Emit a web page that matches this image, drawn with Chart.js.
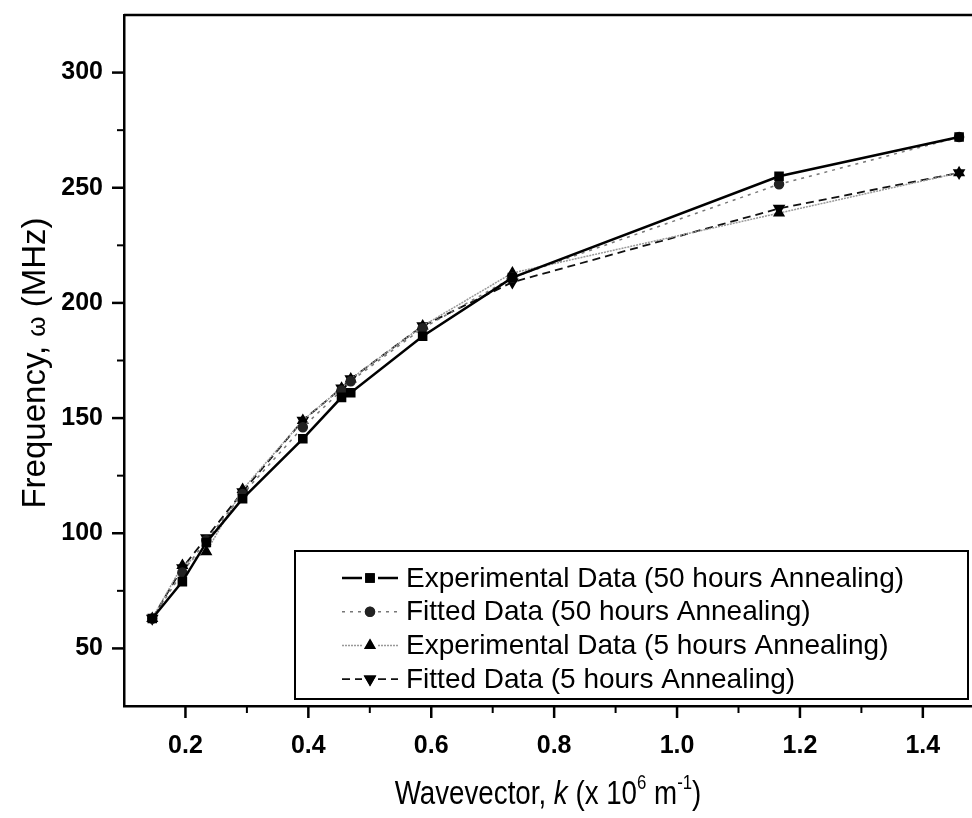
<!DOCTYPE html>
<html>
<head>
<meta charset="utf-8">
<script src="https://cdn.jsdelivr.net/npm/chart.js@4.4.1/dist/chart.umd.min.js"></script>
<style>
  html, body { margin: 0; padding: 0; background: #fff; }
  #wrap { width: 972px; height: 818px; position: relative; }
</style>
</head>
<body>
<div id="wrap"><canvas id="grafico-dispersao"></canvas></div>
<script>
// wavevector k (x 10^6 m^-1)
const wavevector = [0.146, 0.195, 0.234, 0.293, 0.391, 0.454, 0.469, 0.586, 0.732, 1.166, 1.459];
// frequency (MHz)
const exp50 = [63, 79, 96, 115, 141, 159, 161, 185.5, 211, 255, 272];
const fit50 = [63, 83, 97, 117, 146, 162, 166, 189, 211, 251.5, 272];
const exp5  = [63, 86, 92, 119, 149, 163, 167, 190, 213, 239, 256.5];
const fit5  = [63, 85, 98, 118, 149, 163, 167, 190, 209, 241, 256.5];

const xTicks = [0.2, 0.4, 0.6, 0.8, 1.0, 1.2, 1.4];
const yTicks = [50, 100, 150, 200, 250, 300];

const seriesNames = [
  'Experimental Data (50 hours Annealing)',
  'Fitted Data (50 hours Annealing)',
  'Experimental Data (5 hours Annealing)',
  'Fitted Data (5 hours Annealing)'
];

const FONT = "'Liberation Sans', Arial, sans-serif";
const pts = arr => arr.map((y, i) => ({ x: wavevector[i], y: y }));

const ctx = document.getElementById('grafico-dispersao');

// ticks (major + minor), top frame line
const tickPlugin = {
  id: 'ticks',
  afterDraw(chart) {
    const c = chart.ctx, a = chart.chartArea;
    const xs = chart.scales.x, ys = chart.scales.y;
    c.save();
    c.strokeStyle = '#000';
    c.lineWidth = 2.5;
    c.beginPath();
    c.moveTo(a.left, a.top); c.lineTo(a.right, a.top);
    c.stroke();
    yTicks.forEach(v => {
      const p = ys.getPixelForValue(v);
      c.beginPath(); c.moveTo(a.left, p); c.lineTo(a.left - 12, p); c.stroke();
    });
    xTicks.forEach(v => {
      const p = xs.getPixelForValue(v);
      c.beginPath(); c.moveTo(p, a.bottom); c.lineTo(p, a.bottom + 12); c.stroke();
    });
    c.lineWidth = 2;
    for (let v = 75; v <= 275; v += 50) {
      const p = ys.getPixelForValue(v);
      c.beginPath(); c.moveTo(a.left, p); c.lineTo(a.left - 7, p); c.stroke();
    }
    for (let i = 3; i <= 13; i += 2) {
      const p = xs.getPixelForValue(i / 10);
      c.beginPath(); c.moveTo(p, a.bottom); c.lineTo(p, a.bottom + 7); c.stroke();
    }
    c.restore();
  }
};

// axis titles with symbols / superscripts (sx squeezes the text horizontally)
function drawRich(c, parts, x, y, sx) {
  sx = sx || 1;
  let w = 0;
  parts.forEach(p => { c.font = p.font; w += c.measureText(p.t).width; });
  c.save();
  c.translate(x, y);
  c.scale(sx, 1);
  let cx = -w / 2;
  parts.forEach(p => {
    c.font = p.font;
    c.fillText(p.t, cx, p.dy || 0);
    cx += c.measureText(p.t).width;
  });
  c.restore();
}
const titlePlugin = {
  id: 'titles',
  afterDraw(chart) {
    const c = chart.ctx;
    c.save();
    c.fillStyle = '#000';
    c.textBaseline = 'alphabetic';
    drawRich(c, [
      { t: 'Wavevector, ', font: '33px ' + FONT },
      { t: 'k', font: 'italic 33px ' + FONT },
      { t: ' (x 10', font: '33px ' + FONT },
      { t: '6', font: '20px ' + FONT, dy: -15 },
      { t: ' m', font: '33px ' + FONT },
      { t: '-1', font: '20px ' + FONT, dy: -15 },
      { t: ')', font: '33px ' + FONT }
    ], 548, 804, 0.84);
    c.translate(45, 363);
    c.rotate(-Math.PI / 2);
    drawRich(c, [
      { t: 'Frequency, ', font: '33px ' + FONT },
      { t: 'ω', font: '26px ' + FONT },
      { t: ' (MHz)', font: '33px ' + FONT }
    ], 0, 0, 1);
    c.restore();
  }
};

// boxed legend inside the plot, line sample + marker
const legendPlugin = {
  id: 'boxLegend',
  afterDraw(chart) {
    const c = chart.ctx;
    const box = { l: 295, t: 551, r: 968, b: 699 };
    c.save();
    c.fillStyle = '#fff';
    c.fillRect(box.l, box.t, box.r - box.l, box.b - box.t);
    c.strokeStyle = '#000';
    c.lineWidth = 2;
    c.strokeRect(box.l, box.t, box.r - box.l, box.b - box.t);
    chart.data.datasets.forEach((ds, i) => {
      const y = 578 + i * 33.7;
      c.strokeStyle = ds.borderColor;
      c.lineWidth = ds.borderWidth;
      c.setLineDash(ds.borderDash || []);
      c.beginPath(); c.moveTo(342, y); c.lineTo(362, y); c.moveTo(378, y); c.lineTo(398, y); c.stroke();
      c.setLineDash([]);
      Chart.helpers.drawPoint(c, {
        pointStyle: ds.pointStyle, radius: ds.pointRadius, rotation: ds.pointRotation || 0,
        borderWidth: 1
      }, 370, y);
      c.fillStyle = ds.pointBackgroundColor;
      c.strokeStyle = ds.pointBorderColor;
      c.fill(); c.stroke();
      c.fillStyle = '#000';
      c.font = '28px ' + FONT;
      c.textBaseline = 'middle';
      c.fillText(ds.label, 406, y + 1);
    });
    c.restore();
  }
};

new Chart(ctx, {
  type: 'line',
  data: {
    datasets: [
      {
        label: seriesNames[0], data: pts(exp50),
        borderColor: '#000', borderWidth: 2.5,
        pointStyle: 'rect', pointRadius: 5,
        pointBackgroundColor: '#000', pointBorderColor: '#000'
      },
      {
        label: seriesNames[1], data: pts(fit50),
        borderColor: '#777', borderWidth: 1.5, borderDash: [3, 5],
        pointStyle: 'circle', pointRadius: 4.5,
        pointBackgroundColor: '#222', pointBorderColor: '#222'
      },
      {
        label: seriesNames[2], data: pts(exp5),
        borderColor: '#999', borderWidth: 1.5, borderDash: [2, 1],
        pointStyle: 'triangle', pointRadius: 5.5,
        pointBackgroundColor: '#000', pointBorderColor: '#000'
      },
      {
        label: seriesNames[3], data: pts(fit5),
        borderColor: '#111', borderWidth: 1.8, borderDash: [8, 5],
        pointStyle: 'triangle', pointRadius: 5.5, pointRotation: 180,
        pointBackgroundColor: '#000', pointBorderColor: '#000'
      }
    ]
  },
  options: {
    responsive: true,
    maintainAspectRatio: false,
    animation: false,
    layout: { autoPadding: false, padding: { top: 15, right: 0, left: 0, bottom: 0 } },
    plugins: {
      legend: { display: false },
      tooltip: { enabled: false }
    },
    scales: {
      x: {
        type: 'linear',
        min: 0.1,
        max: 1.48,
        afterBuildTicks: s => { s.ticks = xTicks.map(v => ({ value: v })); },
        afterFit: s => { s.height = 112; s.paddingLeft = 0; s.paddingRight = 0; },
        border: { color: '#000', width: 2.5 },
        grid: { display: false, drawTicks: false },
        ticks: {
          autoSkip: false, maxRotation: 0, padding: 25,
          color: '#000', font: { family: FONT, size: 25, weight: 'bold' },
          callback: v => v.toFixed(1)
        }
      },
      y: {
        min: 25,
        max: 325,
        afterBuildTicks: s => { s.ticks = yTicks.map(v => ({ value: v })); },
        afterFit: s => { s.width = 124; s.paddingTop = 0; s.paddingBottom = 0; },
        border: { color: '#000', width: 2.5 },
        grid: { display: false, drawTicks: false },
        ticks: {
          autoSkip: false, padding: 21,
          color: '#000', font: { family: FONT, size: 25, weight: 'bold' },
          callback: v => v
        }
      }
    }
  },
  plugins: [tickPlugin, titlePlugin, legendPlugin]
});
</script>
</body>
</html>
